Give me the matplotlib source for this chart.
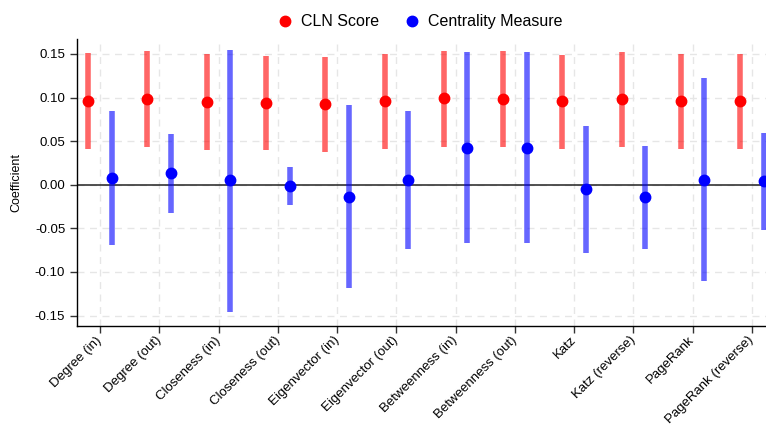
import numpy as np
import matplotlib
matplotlib.use("Agg")
import matplotlib.pyplot as plt

plt.rcParams['font.family'] = ['Liberation Sans', 'DejaVu Sans']

measures = ['Degree (in)', 'Degree (out)', 'Closeness (in)', 'Closeness (out)',
            'Eigenvector (in)', 'Eigenvector (out)', 'Betweenness (in)',
            'Betweenness (out)', 'Katz', 'Katz (reverse)', 'PageRank',
            'PageRank (reverse)']

cln_coef = [0.0963, 0.0986, 0.0951, 0.0940, 0.0928, 0.0959,
            0.0990, 0.0986, 0.0955, 0.0978, 0.0955, 0.0959]
cln_low = [0.0410, 0.0430, 0.0403, 0.0400, 0.0380, 0.0414,
           0.0430, 0.0430, 0.0410, 0.0430, 0.0410, 0.0414]
cln_high = [0.1507, 0.1538, 0.1496, 0.1477, 0.1470, 0.1500,
            0.1538, 0.1538, 0.1492, 0.1523, 0.1500, 0.1500]

cent_coef = [0.0081, 0.0134, 0.0050, -0.0015, -0.0138, 0.0058,
             0.0422, 0.0422, -0.0054, -0.0146, 0.0058, 0.0038]
cent_low = [-0.0690, -0.0322, -0.1454, -0.0234, -0.1190, -0.0736,
            -0.0671, -0.0671, -0.0783, -0.0740, -0.1109, -0.0518]
cent_high = [0.0848, 0.0587, 0.1546, 0.0200, 0.0917, 0.0848,
             0.1519, 0.1519, 0.0679, 0.0449, 0.1224, 0.0591]

x = np.arange(len(measures))
offset = 0.2

fig = plt.figure(figsize=(7.66, 4.25), dpi=100)
ax = fig.add_axes([0.1005, 0.233, 0.912, 0.675])

for xs, coef, lo, hi, color, label in [
        (x - offset, cln_coef, cln_low, cln_high, 'red', 'CLN Score'),
        (x + offset, cent_coef, cent_low, cent_high, 'blue', 'Centrality Measure')]:
    ax.vlines(xs, lo, hi, color=color, alpha=0.6, linewidth=4, zorder=2)
    ax.plot(xs, coef, 'o', color=color, markersize=7.5, label=label,
            linestyle='none', zorder=3)

ax.axhline(0, color='#222222', linewidth=1.1, zorder=1)

ax.set_xlim(-0.39, len(measures) - 1 + 0.4)
ax.set_ylim(-0.162, 0.167)
yticks = [-0.15, -0.10, -0.05, 0.00, 0.05, 0.10, 0.15]
ax.set_yticks(yticks)
ax.set_yticklabels(['%.2f' % v for v in yticks])
ax.set_xticks(x)
ax.set_xticklabels(measures, rotation=45, ha='right', va='center',
                   rotation_mode='anchor')
ax.tick_params(axis='both', labelsize=9.5, length=5, width=1, color='#333333')
ax.tick_params(axis='x', pad=4)
ax.set_ylabel('Coefficient', fontsize=9, labelpad=9)

ax.grid(True, linestyle='--', color='#e6e6e6', linewidth=1, dashes=(5, 4))
ax.set_axisbelow(True)
for side in ['top', 'right']:
    ax.spines[side].set_visible(False)
for side in ['left', 'bottom']:
    ax.spines[side].set_linewidth(1)

fig.legend(loc='upper center', bbox_to_anchor=(0.548, 1.0), ncol=2,
           frameon=False, fontsize=11.5, handletextpad=0.5, columnspacing=1.6,
           handlelength=1.0)

fig.savefig('out.png', dpi=100)
